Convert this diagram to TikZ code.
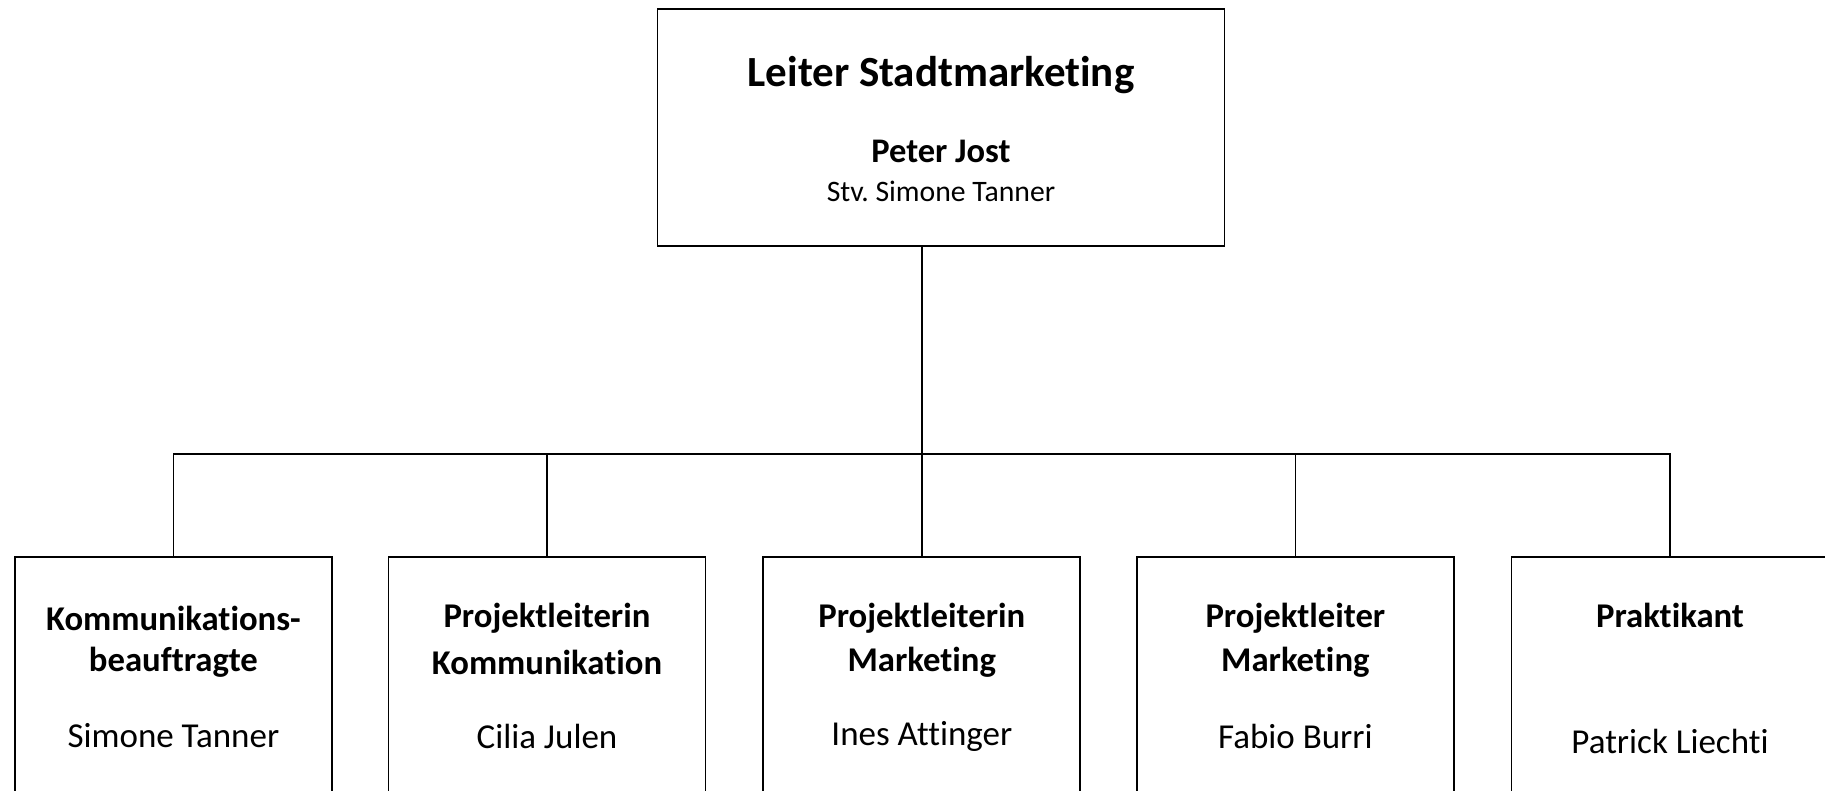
\documentclass[tikz,border=0pt]{standalone}
\usepackage{fontspec}
\setmainfont[Ligatures={NoCommon}]{Carlito}
\begin{document}
\begin{tikzpicture}[x=1pt,y=-1pt,
  box/.style={draw=black,line width=1.8pt,rectangle,inner sep=0pt,minimum width=317pt,minimum height=300pt,anchor=north},
  topbox/.style={draw=black,line width=1.8pt,rectangle,inner sep=0pt,minimum width=567pt,minimum height=237pt,anchor=north},
  conn/.style={draw=black,line width=1.8pt},
  big/.style={font=\fontsize{43}{48}\selectfont\bfseries,inner sep=0pt},
  mid/.style={font=\fontsize{34.5}{38}\selectfont\bfseries,inner sep=0pt},
  small/.style={font=\fontsize{29.7}{33}\selectfont,inner sep=0pt},
  ttl/.style={font=\fontsize{34.7}{38}\selectfont\bfseries,inner sep=0pt},
  nm/.style={font=\fontsize{35}{38}\selectfont,inner sep=0pt}]
\useasboundingbox (0,0) rectangle (1825,791);
\clip (0,0) rectangle (1825,791);
\fill[white] (0,0) rectangle (1825,791);
\node[topbox] (top) at (941,8) {};
\node[big] (t1) at (941,75) {Leiter Stadtmarketing};
\node[mid] (t2) at (941,151) {Peter Jost};
\node[small] (t3) at (941,191) {Stv.\ Simone Tanner};
\node[box] (b1) at (173.4,556) {};
\node[box] (b2) at (547,556) {};
\node[box] (b3) at (921.8,556) {};
\node[box] (b4) at (1295.4,556) {};
\node[box] (b5) at (1670,556) {};
\coordinate (bar) at (0,454);
\draw[conn] (b3.north) -- (b3.north |- top.south);
\draw[conn] (b1.north) -- (b1.north |- bar) -- (b5.north |- bar) -- (b5.north);
\draw[conn] (b2.north) -- (b2.north |- bar);
\draw[conn] (b4.north) -- (b4.north |- bar);
\node[ttl] (a1) at (173.4,618.5) {Kommunikations-};
\node[ttl] (a2) at (173.4,662) {beauftragte};
\node[nm] (a3) at (173.4,736) {Simone Tanner};
\node[ttl] (c1) at (547,618.5) {Projektleiterin};
\node[ttl] (c2) at (547,662) {Kommunikation};
\node[nm] (c3) at (547,736) {Cilia Julen};
\node[ttl] (d1) at (921.8,618.5) {Projektleiterin};
\node[ttl] (d2) at (921.8,662) {Marketing};
\node[nm] (d3) at (921.8,736) {Ines Attinger};
\node[ttl] (e1) at (1295.4,618.5) {Projektleiter};
\node[ttl] (e2) at (1295.4,662) {Marketing};
\node[nm] (e3) at (1295.4,736) {Fabio Burri};
\node[ttl] (f1) at (1670,615) {Praktikant};
\node[nm] (f2) at (1670,741) {Patrick Liechti};
\end{tikzpicture}
\end{document}
